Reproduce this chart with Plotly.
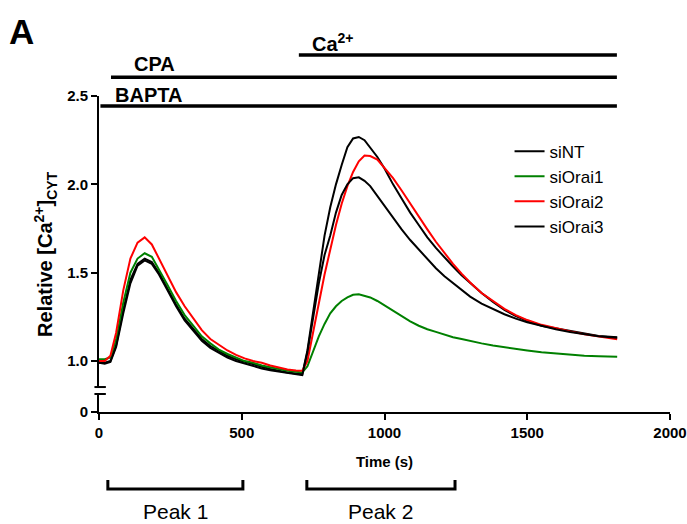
import plotly.graph_objects as go

# ---- data ----
time_s = [0, 20, 40, 60, 85, 110, 135, 160, 185, 210, 240, 270, 300, 330, 360, 390, 420, 450, 480, 510,
          540, 570, 600, 630, 660, 690, 712,
          730, 750, 770, 790, 810, 830, 850, 870, 890, 910, 930, 950, 975, 1000, 1030, 1060, 1090, 1120,
          1150, 1180, 1210, 1240, 1270, 1300, 1340, 1380, 1420, 1460, 1500, 1550, 1600, 1650, 1700, 1750, 1815]

siNT = [0.99, 0.99, 1.00, 1.09, 1.29, 1.46, 1.55, 1.58, 1.56, 1.50, 1.41, 1.32, 1.24, 1.18, 1.125,
        1.085, 1.055, 1.03, 1.01, 0.995, 0.98, 0.968, 0.955, 0.945, 0.935, 0.93, 0.925,
        1.06, 1.27, 1.50, 1.71, 1.87, 2.00, 2.11, 2.21, 2.26, 2.268, 2.25, 2.21, 2.155, 2.09, 2.00,
        1.92, 1.84, 1.77, 1.70, 1.64, 1.585, 1.535, 1.485, 1.44, 1.385, 1.335, 1.29, 1.255, 1.228, 1.20,
        1.185, 1.17, 1.155, 1.142, 1.135]

siOrai1 = [1.01, 1.01, 1.02, 1.12, 1.33, 1.50, 1.58, 1.61, 1.59, 1.52, 1.43, 1.34, 1.26, 1.20, 1.14,
           1.10, 1.065, 1.04, 1.02, 1.00, 0.99, 0.975, 0.965, 0.955, 0.945, 0.94, 0.935,
           0.97, 1.06, 1.14, 1.21, 1.27, 1.31, 1.34, 1.36, 1.375, 1.378, 1.37, 1.36, 1.34, 1.315, 1.285,
           1.255, 1.225, 1.20, 1.18, 1.165, 1.15, 1.135, 1.125, 1.113, 1.10, 1.088, 1.078, 1.068, 1.06, 1.05,
           1.042, 1.036, 1.03, 1.027, 1.024]

siOrai2 = [1.00, 1.00, 1.03, 1.16, 1.40, 1.58, 1.67, 1.70, 1.66, 1.58, 1.48, 1.39, 1.31, 1.245, 1.175,
           1.125, 1.09, 1.06, 1.035, 1.015, 1.00, 0.99, 0.975, 0.962, 0.952, 0.947, 0.945,
           1.00, 1.17, 1.33, 1.49, 1.63, 1.77, 1.89, 1.99, 2.07, 2.13, 2.163, 2.16, 2.14, 2.095, 2.035,
           1.965, 1.89, 1.815, 1.745, 1.675, 1.61, 1.55, 1.495, 1.445, 1.385, 1.34, 1.295, 1.26, 1.232, 1.205,
           1.185, 1.168, 1.152, 1.138, 1.123]

siOrai3 = [0.99, 0.985, 0.995, 1.08, 1.27, 1.44, 1.54, 1.57, 1.55, 1.49, 1.40, 1.31, 1.23, 1.17, 1.115,
           1.075, 1.045, 1.02, 1.00, 0.985, 0.97, 0.958, 0.948, 0.94, 0.932, 0.925, 0.92,
           1.05, 1.24, 1.44, 1.60, 1.71, 1.84, 1.94, 2.00, 2.035, 2.04, 2.02, 1.99, 1.935, 1.875, 1.81,
           1.745, 1.685, 1.63, 1.575, 1.525, 1.48, 1.44, 1.40, 1.365, 1.325, 1.295, 1.265, 1.24, 1.22, 1.20,
           1.18, 1.165, 1.152, 1.14, 1.132]

series_names = ["siNT", "siOrai1", "siOrai2", "siOrai3"]
series_values = [siNT, siOrai1, siOrai2, siOrai3]
series_colors = ["#000000", "#008000", "#FF0000", "#000000"]

x_tickvals = [0, 500, 1000, 1500, 2000]
x_ticktext = ["0", "500", "1000", "1500", "2000"]
y_tickvals = [1.0, 1.5, 2.0, 2.5]
y_ticktext = ["1.0", "1.5", "2.0", "2.5"]

treat_names = ["BAPTA", "CPA", "Ca<sup>2+</sup>"]
treat_start = [5, 42, 700]
treat_end = [1814, 1814, 1814]

peak_names = ["Peak 1", "Peak 2"]
peak_start = [31, 728]
peak_end = [504, 1247]

# ---- styling ----
FONT = "Arial, 'Liberation Sans', Helvetica, sans-serif"
BLACK = "#000000"

fig = go.Figure()
for name, vals, col in zip(series_names, series_values, series_colors):
    fig.add_trace(go.Scatter(x=time_s, y=vals, mode="lines", name=name,
                             line=dict(color=col, width=2), xaxis="x", yaxis="y"))
# empty trace so the lower (broken) y-axis segment is drawn
fig.add_trace(go.Scatter(x=[None], y=[None], mode="lines", showlegend=False, hoverinfo="skip",
                         xaxis="x", yaxis="y2"))

axis_common = dict(showline=True, linecolor=BLACK, linewidth=2, ticks="outside",
                   ticklen=6, tickwidth=2, tickcolor=BLACK, showgrid=False, zeroline=False,
                   tickfont=dict(family=FONT, size=15, color=BLACK, weight="bold"))

fig.update_layout(
    width=687, height=524,
    template="none",
    paper_bgcolor="white", plot_bgcolor="white",
    margin=dict(l=99, r=17, t=96, b=112),
    font=dict(family=FONT, color=BLACK),
    xaxis=dict(domain=[0, 1], range=[0, 2000], anchor="y2", tickvals=x_tickvals, ticktext=x_ticktext,
               title=dict(text="Time (s)", font=dict(family=FONT, size=15, color=BLACK, weight="bold"),
                          standoff=16),
               automargin=False, **axis_common),
    yaxis=dict(domain=[0.079, 1], range=[0.853, 2.5], anchor="x", tickvals=y_tickvals,
               ticktext=y_ticktext, automargin=False, **axis_common),
    yaxis2=dict(domain=[0, 0.057], range=[0, 0.1], anchor="x", tickvals=[0], ticktext=["0"],
                automargin=False, **axis_common),
    showlegend=True,
    legend=dict(x=0.719, y=0.881, xanchor="left", yanchor="top", bgcolor="rgba(0,0,0,0)",
                font=dict(family=FONT, size=17, color=BLACK), borderwidth=0),
)

# treatment bars above the plot
bar_y = [0.968, 1.059, 1.130]
label_pos = [(175, 1.0016, "center"), (193, 1.0997, "center"), (739, 1.168, "left")]
for i in range(len(treat_names)):
    fig.add_shape(type="line", xref="x", yref="paper", x0=treat_start[i], x1=treat_end[i],
                  y0=bar_y[i], y1=bar_y[i], line=dict(color=BLACK, width=3.5))
    lx, ly, anc = label_pos[i]
    fig.add_annotation(x=lx, y=ly, xref="x", yref="paper", text=treat_names[i], showarrow=False,
                       xanchor=anc, yanchor="middle",
                       font=dict(family=FONT, size=20, color=BLACK, weight="bold"))

# peak brackets below the axis
for name, s, e in zip(peak_names, peak_start, peak_end):
    fig.add_shape(type="path", xref="x", yref="paper",
                  path=f"M {s},-0.215 L {s},-0.244 L {e},-0.244 L {e},-0.215",
                  line=dict(color=BLACK, width=3))
    fig.add_annotation(x=(s + e) / 2, y=-0.315, xref="x", yref="paper", text=name, showarrow=False,
                       xanchor="center", yanchor="middle",
                       font=dict(family=FONT, size=21, color=BLACK))

# axis break marks
for yb in [0.079, 0.057]:
    fig.add_shape(type="line", xref="paper", yref="paper", x0=-0.008, x1=0.012, y0=yb, y1=yb,
                  line=dict(color=BLACK, width=2))

# y-axis title
fig.add_annotation(x=-0.0946, y=0.50, xref="paper", yref="paper", textangle=-90, showarrow=False,
                   text="Relative [Ca<sup>2+</sup>]<sub>CYT</sub>", xanchor="center", yanchor="middle",
                   font=dict(family=FONT, size=20, color=BLACK, weight="bold"))

# panel letter
fig.add_annotation(x=-0.135, y=1.203, xref="paper", yref="paper", text="A", showarrow=False,
                   xanchor="center", yanchor="middle",
                   font=dict(family=FONT, size=35, color=BLACK, weight="bold"))

fig.write_html("out.html", config={"displayModeBar": False},
               post_script="document.body.style.margin='0px';document.body.style.overflow='hidden';")
